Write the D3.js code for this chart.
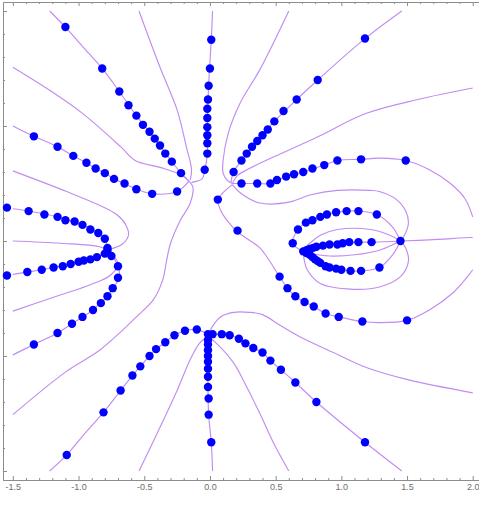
<!DOCTYPE html>
<html>
<head>
<meta charset="utf-8">
<script src="https://cdn.jsdelivr.net/npm/d3@7"></script>
<style>
  body { margin: 0; background: #fff; }
  .axis path, .axis line { stroke: #8c8c8c; }
  .axis text { fill: #6e6e6e; font-family: "Liberation Sans", Arial, sans-serif; font-size: 9px; }
</style>
</head>
<body>
<svg id="chart" width="479" height="508"></svg>
<script>
// ---- curves (x, y in plot units) ----
const rayTopLeft = [[-1.22,2.0],[-1.10,1.86],[-0.96,1.68],[-0.82,1.50],[-0.69,1.30],[-0.56,1.09],[-0.42,0.89],[-0.29,0.69],[-0.22,0.59],[-0.16,0.52]];
const rayTopLeft2 = [[-0.54,2.0],[-0.38,1.51],[-0.25,1.14],[-0.18,0.82],[-0.14,0.62],[-0.15,0.53]];
const rayTop = [[0.02,2.0],[0.01,1.75],[-0.01,1.35],[-0.02,0.99],[-0.02,0.76],[-0.04,0.61],[-0.06,0.54],[-0.14,0.51]];
const rayTopRight = [[0.60,2.0],[0.38,1.49],[0.23,1.20],[0.14,0.94],[0.10,0.70],[0.10,0.59],[0.13,0.53],[0.17,0.50]];
const rayTopRight2 = [[1.46,2.0],[1.18,1.76],[0.82,1.40],[0.66,1.23],[0.49,1.04],[0.36,0.87],[0.24,0.70],[0.18,0.60],[0.16,0.51]];
const rayRightHigh = [[2.0,1.33],[1.58,1.23],[1.19,1.11],[0.81,0.90],[0.56,0.77],[0.30,0.63],[0.21,0.57],[0.17,0.50]];
const arcOuterUpper = [[0.17,0.50],[0.24,0.50],[0.36,0.50],[0.46,0.50],[0.58,0.56],[0.71,0.60],[0.87,0.66],[0.97,0.70],[1.15,0.71],[1.29,0.72],[1.49,0.70],[1.67,0.62],[1.83,0.50],[1.94,0.37],[2.0,0.21]];
const loopUpper = [[0.17,0.49],[0.23,0.42],[0.38,0.33],[0.61,0.34],[0.76,0.40],[0.97,0.44],[1.22,0.44],[1.29,0.43],[1.42,0.36],[1.49,0.26],[1.51,0.15],[1.48,0.05],[1.45,0.0]];
const arcOuterLower = [[0.17,0.49],[0.10,0.42],[0.06,0.36],[0.08,0.27],[0.13,0.18],[0.21,0.08],[0.38,-0.06],[0.44,-0.15],[0.53,-0.31],[0.59,-0.41],[0.65,-0.48],[0.72,-0.53],[0.79,-0.57],[0.88,-0.63],[0.98,-0.66],[1.16,-0.70],[1.29,-0.71],[1.50,-0.69],[1.67,-0.60],[1.85,-0.45],[1.96,-0.31],[2.0,-0.25]];
const rayRightLow = [[-0.01,-0.81],[0.02,-0.74],[0.08,-0.66],[0.18,-0.62],[0.30,-0.62],[0.40,-0.64],[0.53,-0.73],[0.68,-0.83],[0.94,-0.97],[1.19,-1.10],[1.52,-1.21],[2.0,-1.32]];
const rayBottomRight2 = [[-0.015,-0.81],[0.02,-0.81],[0.09,-0.81],[0.15,-0.82],[0.22,-0.85],[0.27,-0.89],[0.33,-0.93],[0.40,-0.97],[0.46,-1.04],[0.54,-1.12],[0.65,-1.23],[0.81,-1.40],[1.18,-1.75],[1.46,-2.0]];
const rayBottomRight = [[-0.015,-0.83],[0.05,-0.89],[0.18,-1.06],[0.28,-1.27],[0.38,-1.50],[0.49,-1.77],[0.60,-2.0]];
const rayBottom = [[-0.015,-0.81],[-0.015,-1.0],[-0.015,-1.27],[-0.01,-1.51],[0.01,-1.75],[0.02,-2.0]];
const rayBottomLeft = [[-0.54,-2.0],[-0.38,-1.62],[-0.25,-1.30],[-0.15,-1.03],[-0.08,-0.89],[-0.02,-0.83]];
const rayBottomLeft2 = [[-1.22,-2.0],[-1.09,-1.86],[-0.95,-1.67],[-0.81,-1.49],[-0.68,-1.30],[-0.59,-1.17],[-0.53,-1.09],[-0.46,-1.0],[-0.41,-0.94],[-0.34,-0.88],[-0.27,-0.82],[-0.19,-0.78],[-0.10,-0.77],[-0.015,-0.81]];
const longLeft = [[-1.5,-1.51],[-1.10,-1.14],[-0.84,-0.95],[-0.66,-0.77],[-0.56,-0.66],[-0.43,-0.51],[-0.36,-0.34],[-0.33,-0.17],[-0.30,-0.02],[-0.23,0.17],[-0.15,0.33],[-0.13,0.47],[-0.16,0.52]];
const leftHigh = [[-1.5,1.51],[-1.22,1.31],[-0.97,1.11],[-0.68,0.82],[-0.57,0.70],[-0.38,0.64],[-0.21,0.57],[-0.16,0.52]];
const leftHigh2 = [[-1.5,1.0],[-1.34,0.91],[-1.16,0.82],[-1.04,0.74],[-0.94,0.68],[-0.87,0.63],[-0.80,0.59],[-0.73,0.54],[-0.65,0.50],[-0.56,0.45],[-0.44,0.41],[-0.25,0.43],[-0.16,0.52]];
const leftLoop = [[-1.5,0.61],[-1.09,0.43],[-0.84,0.31],[-0.71,0.23],[-0.64,0.14],[-0.62,0.05],[-0.67,-0.03],[-0.75,-0.07],[-0.78,-0.09]];
const leftLow = [[-1.5,-0.61],[-1.14,-0.47],[-0.91,-0.38],[-0.76,-0.30],[-0.70,-0.20],[-0.75,-0.11],[-0.78,-0.09]];
const leftMid = [[-1.5,0],[-1.14,-0.02],[-0.84,-0.05],[-0.78,-0.08]];
const leftUpperDotted = [[-1.5,0.28],[-1.38,0.26],[-1.16,0.21],[-0.97,0.14],[-0.85,0.07],[-0.80,0.02],[-0.78,-0.06]];
const leftLowerDotted = [[-1.5,-0.29],[-1.39,-0.27],[-1.19,-0.23],[-1.00,-0.18],[-0.86,-0.14],[-0.80,-0.11]];
const leftHook = [[-0.80,-0.11],[-0.75,-0.13],[-0.70,-0.22],[-0.69,-0.32],[-0.74,-0.41],[-0.78,-0.48],[-0.84,-0.54],[-0.89,-0.60],[-0.97,-0.66],[-1.05,-0.72],[-1.16,-0.80],[-1.34,-0.90],[-1.5,-0.99]];
const lensOuterTop = [[0.71,-0.09],[0.63,-0.02],[0.67,0.10],[0.73,0.16],[0.78,0.18],[0.84,0.21],[0.89,0.23],[0.96,0.25],[1.04,0.26],[1.13,0.26],[1.27,0.23],[1.39,0.12],[1.45,0.0]];
const lensInnerTop = [[0.71,-0.09],[0.76,-0.07],[0.81,-0.05],[0.86,-0.04],[0.91,-0.03],[0.97,-0.03],[1.01,-0.02],[1.06,-0.01],[1.13,-0.01],[1.23,-0.01],[1.45,0.0]];
const lensInnerBottom = [[0.71,-0.09],[0.76,-0.12],[0.80,-0.16],[0.84,-0.19],[0.88,-0.22],[0.91,-0.23],[0.96,-0.24],[1.00,-0.25],[1.07,-0.26],[1.15,-0.26],[1.29,-0.23],[1.39,-0.12],[1.45,0.0]];
const lensThinTop = [[0.71,-0.07],[0.76,-0.02],[0.84,0.05],[0.97,0.10],[1.22,0.10],[1.37,0.05],[1.45,0.0]];
const lensThinBottom = [[0.72,-0.10],[0.91,-0.13],[1.10,-0.12],[1.29,-0.08],[1.45,0.0]];
const lensOuterBottom = [[0.71,-0.10],[0.72,-0.18],[0.74,-0.25],[0.84,-0.37],[1.09,-0.42],[1.29,-0.40],[1.45,-0.31],[1.51,-0.18],[1.49,-0.06],[1.45,0.0]];
const rightMid = [[1.45,0.0],[1.67,0.01],[1.98,0.03],[2.0,0.03]];

// ---- points (x, y in plot units) ----
const ptsTopLeft = [[-1.10,1.86],[-0.82,1.50],[-0.69,1.30],[-0.62,1.18],[-0.56,1.09],[-0.51,1.01],[-0.46,0.95],[-0.42,0.89],[-0.38,0.83],[-0.34,0.76],[-0.29,0.69],[-0.22,0.59]];
const ptsTop = [[0.01,1.75],[0.0,1.50],[-0.01,1.35],[-0.015,1.23],[-0.02,1.15],[-0.02,1.07],[-0.02,0.99],[-0.02,0.92],[-0.02,0.85],[-0.02,0.76],[-0.04,0.62]];
const ptsTopRight = [[1.18,1.76],[0.82,1.40],[0.66,1.23],[0.56,1.13],[0.49,1.04],[0.44,0.97],[0.40,0.92],[0.36,0.87],[0.32,0.82],[0.28,0.76],[0.24,0.70],[0.18,0.60]];
const ptsArcUpper = [[0.24,0.50],[0.36,0.50],[0.46,0.50],[0.51,0.53],[0.58,0.56],[0.64,0.58],[0.71,0.60],[0.78,0.63],[0.87,0.66],[0.97,0.70],[1.15,0.71],[1.49,0.70]];
const ptsArcLower = [[0.06,0.36],[0.21,0.09],[0.53,-0.31],[0.59,-0.41],[0.65,-0.48],[0.72,-0.53],[0.79,-0.57],[0.88,-0.63],[0.98,-0.66],[1.16,-0.70],[1.50,-0.69]];
const ptsBottomRight = [[0.02,-0.81],[0.09,-0.81],[0.15,-0.82],[0.22,-0.85],[0.27,-0.89],[0.33,-0.93],[0.40,-0.97],[0.46,-1.04],[0.54,-1.12],[0.65,-1.23],[0.81,-1.40],[1.18,-1.75]];
const ptsBottom = [[-0.015,-0.81],[-0.015,-0.86],[-0.015,-0.90],[-0.015,-0.95],[-0.015,-1.0],[-0.015,-1.05],[-0.015,-1.11],[-0.015,-1.18],[-0.015,-1.27],[-0.01,-1.37],[-0.01,-1.51],[0.01,-1.75]];
const ptsBottomLeft = [[-1.09,-1.86],[-0.81,-1.49],[-0.68,-1.30],[-0.59,-1.17],[-0.53,-1.09],[-0.46,-1.0],[-0.41,-0.94],[-0.34,-0.88],[-0.27,-0.82],[-0.19,-0.78],[-0.10,-0.77]];
const ptsLeftHigh = [[-1.34,0.91],[-1.16,0.82],[-1.04,0.74],[-0.94,0.68],[-0.87,0.63],[-0.80,0.59],[-0.73,0.54],[-0.65,0.50],[-0.56,0.45],[-0.44,0.41],[-0.25,0.43]];
const ptsLeftUpper = [[-1.545,0.29],[-1.38,0.26],[-1.26,0.23],[-1.16,0.21],[-1.10,0.18],[-1.03,0.17],[-0.97,0.14],[-0.91,0.10],[-0.85,0.07],[-0.80,0.02],[-0.78,-0.06],[-0.78,-0.08]];
const ptsLeftLower = [[-1.545,-0.30],[-1.39,-0.27],[-1.28,-0.25],[-1.19,-0.23],[-1.12,-0.22],[-1.06,-0.20],[-1.00,-0.18],[-0.96,-0.17],[-0.91,-0.16],[-0.86,-0.14],[-0.80,-0.11]];
const ptsLeftHook = [[-0.75,-0.13],[-0.70,-0.22],[-0.70,-0.32],[-0.74,-0.41],[-0.78,-0.48],[-0.83,-0.54],[-0.89,-0.60],[-0.97,-0.66],[-1.05,-0.72],[-1.16,-0.80],[-1.34,-0.90]];
const ptsLensTop = [[0.63,-0.02],[0.67,0.10],[0.73,0.16],[0.78,0.18],[0.84,0.21],[0.89,0.23],[0.96,0.25],[1.04,0.26],[1.13,0.26],[1.27,0.23]];
const ptsLensMid = [[0.71,-0.09],[0.735,-0.08],[0.76,-0.07],[0.785,-0.06],[0.81,-0.05],[0.86,-0.04],[0.91,-0.03],[0.97,-0.03],[1.01,-0.02],[1.06,-0.01],[1.13,-0.01],[1.23,-0.01],[1.45,0.0]];
const ptsLensLow = [[0.735,-0.105],[0.76,-0.12],[0.78,-0.14],[0.80,-0.16],[0.82,-0.175],[0.84,-0.19],[0.88,-0.22],[0.91,-0.23],[0.96,-0.24],[1.00,-0.25],[1.07,-0.26],[1.15,-0.26],[1.29,-0.23]];

// ---- ticks ----
const xMajorTicks = [-1.5, -1.0, -0.5, 0.0, 0.5, 1.0, 1.5, 2.0];
const xTickLabels = ["-1.5", "-1.0", "-0.5", "0.0", "0.5", "1.0", "1.5", "2.0"];
const yMajorTicks = [-2, -1, 0, 1, 2];

const curves = [rayTopLeft, rayTopLeft2, rayTop, rayTopRight, rayTopRight2, rayRightHigh,
  arcOuterUpper, loopUpper, arcOuterLower, rayRightLow, rayBottomRight2, rayBottomRight,
  rayBottom, rayBottomLeft, rayBottomLeft2, longLeft, leftHigh, leftHigh2, leftLoop,
  leftLow, leftMid, leftUpperDotted, leftLowerDotted, leftHook, lensOuterTop, lensInnerTop,
  lensInnerBottom, lensThinTop, lensThinBottom, lensOuterBottom, rightMid];
const points = [].concat(ptsTopLeft, ptsTop, ptsTopRight, ptsArcUpper, ptsArcLower,
  ptsBottomRight, ptsBottom, ptsBottomLeft, ptsLeftHigh, ptsLeftUpper, ptsLeftLower,
  ptsLeftHook, ptsLensTop, ptsLensMid, ptsLensLow);

const svg = d3.select('#chart');
const x = d3.scaleLinear().domain([-1.575, 2.075]).range([3, 482.6]);
const y = d3.scaleLinear().domain([-2.078, 2.078]).range([480, 2]);

// minor tick values
const xMinor = d3.range(-15, 21).map(d => d / 10).filter(d => Math.abs(d * 2 - Math.round(d * 2)) > 1e-6);
const yMinor = d3.range(-10, 11).map(d => d / 5).filter(d => Math.abs(d - Math.round(d)) > 1e-6);

// frame: bottom, top, left
svg.append('g').attr('class', 'axis').attr('transform', 'translate(0,480)')
  .call(d3.axisBottom(x).tickValues(xMajorTicks).tickSize(-4).tickSizeOuter(0).tickPadding(4)
    .tickFormat((d, i) => xTickLabels[i]));
svg.append('g').attr('class', 'axis').attr('transform', 'translate(0,480)')
  .call(d3.axisBottom(x).tickValues(xMinor).tickSize(-2).tickSizeOuter(0).tickFormat(''));
svg.append('g').attr('class', 'axis').attr('transform', 'translate(0,2)')
  .call(d3.axisTop(x).tickValues(xMajorTicks).tickSize(-4).tickSizeOuter(0).tickFormat(''));
svg.append('g').attr('class', 'axis').attr('transform', 'translate(0,2)')
  .call(d3.axisTop(x).tickValues(xMinor).tickSize(-2).tickSizeOuter(0).tickFormat(''));
svg.append('g').attr('class', 'axis').attr('transform', 'translate(3,0)')
  .call(d3.axisLeft(y).tickValues(yMajorTicks).tickSize(-4).tickSizeOuter(0).tickFormat(''));
svg.append('g').attr('class', 'axis').attr('transform', 'translate(3,0)')
  .call(d3.axisLeft(y).tickValues(yMinor).tickSize(-2).tickSizeOuter(0).tickFormat(''));

// curves
const line = d3.line()
  .x(d => x(d[0]))
  .y(d => y(d[1]))
  .curve(d3.curveCatmullRom.alpha(0.5));
svg.append('g')
  .selectAll('path')
  .data(curves)
  .enter()
  .append('path')
  .attr('d', line)
  .attr('fill', 'none')
  .attr('stroke', '#c08cf2')
  .attr('stroke-width', 1.15);

// points
svg.append('g')
  .selectAll('circle')
  .data(points)
  .enter()
  .append('circle')
  .attr('cx', d => x(d[0]))
  .attr('cy', d => y(d[1]))
  .attr('r', 4.2)
  .attr('fill', '#0000ff');
</script>
</body>
</html>
